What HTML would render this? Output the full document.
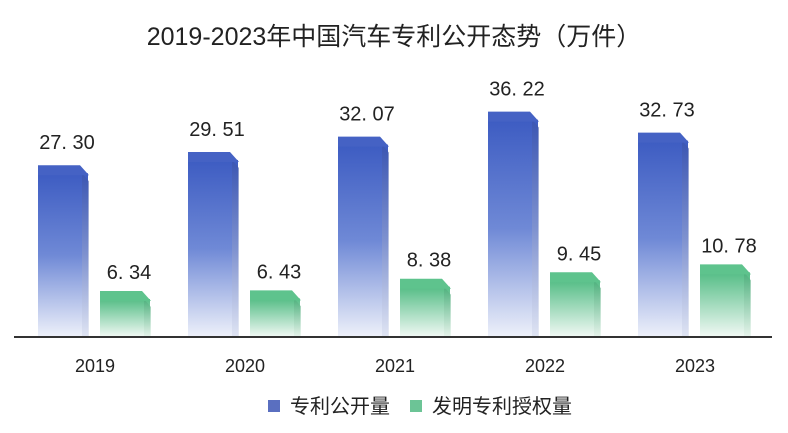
<!DOCTYPE html>
<html><head><meta charset="utf-8">
<style>
body{margin:0;background:#fff;}
svg{display:block;font-family:"Liberation Sans","Noto Sans CJK SC",sans-serif;}
</style></head>
<body>
<svg id="chart" width="788" height="433" viewBox="0 0 788 433">
<defs>
<linearGradient id="gb" x1="0" y1="0" x2="0" y2="1">
<stop offset="0" stop-color="#3d5cc2"/><stop offset="0.5" stop-color="#6f89d6"/><stop offset="1" stop-color="#eef1fa"/></linearGradient>
<linearGradient id="gbs" x1="0" y1="0" x2="0" y2="1">
<stop offset="0" stop-color="#3a52a8"/><stop offset="1" stop-color="#d6dcee"/></linearGradient>
<linearGradient id="gg" x1="0" y1="0" x2="0" y2="1">
<stop offset="0" stop-color="#55bd86"/><stop offset="1" stop-color="#f2f9f5"/></linearGradient>
<linearGradient id="ggs" x1="0" y1="0" x2="0" y2="1">
<stop offset="0" stop-color="#48a876"/><stop offset="1" stop-color="#e0f0e6"/></linearGradient>
</defs>
<text x="394" y="45" text-anchor="middle" font-size="25" fill="#222">2019-2023年中国汽车专利公开态势（万件）</text>
<g id="bars"></g>
<line x1="14" y1="337" x2="772" y2="337" stroke="#333" stroke-width="2"/>
<g>
<rect x="268" y="400" width="12" height="12" fill="#5a6fc0"/>
<text x="290" y="413" font-size="20" fill="#222">专利公开量</text>
<rect x="410" y="400" width="12" height="12" fill="#6cc496"/>
<text x="432" y="413" font-size="20" fill="#222">发明专利授权量</text>
</g>
</svg>
<script>
const years = ["2019","2020","2021","2022","2023"];
const disclosed = [27.30, 29.51, 32.07, 36.22, 32.73];
const granted = [6.34, 6.43, 8.38, 9.45, 10.78];

const NS = "http://www.w3.org/2000/svg";
const base = 337, scale = 6.0;
const y = v => base - v * scale;
const cx = i => 95 + i * 150;
const g = document.getElementById("bars");
function mk(tag, attrs){const e=document.createElementNS(NS,tag);for(const k in attrs)e.setAttribute(k,attrs[k]);g.appendChild(e);return e;}
function bar(x, w, v, front, side, topc, name, gap){
  const t = y(v), d = 8;
  const r = mk("rect",{x:x,y:t,width:w,height:base-t,fill:front});
  
  
  const s = mk("polygon",{points:`${x+w-6},${t} ${x+w+1},${t+d} ${x+w+1},${base} ${x+w-6},${base}`,fill:side,opacity:0.6});
  
  
  const tp = mk("polygon",{points:`${x},${t-d} ${x+w-8},${t-d} ${x+w+1},${t+2} ${x},${t+2}`,fill:topc});
  
  
  const l = mk("text",{x:x+w/2+4,y:t-gap,"text-anchor":"middle","font-size":"20",fill:"#222"});
  l.textContent = v.toFixed(2).replace(".", ". ");
  
  
}
years.forEach((yr,i)=>{
  const c = cx(i);
  bar(c-57, 50, disclosed[i], "url(#gb)", "url(#gbs)", "#4562c4", "bar-disclosed-"+yr, 24);
  bar(c+5, 50, granted[i], "url(#gg)", "url(#ggs)", "#5ec38d", "bar-granted-"+yr, 20);
  const t = mk("text",{x:c,y:372,"text-anchor":"middle","font-size":"18",fill:"#222"});
  t.textContent = yr;
  
  
});
</script>
</body></html>
